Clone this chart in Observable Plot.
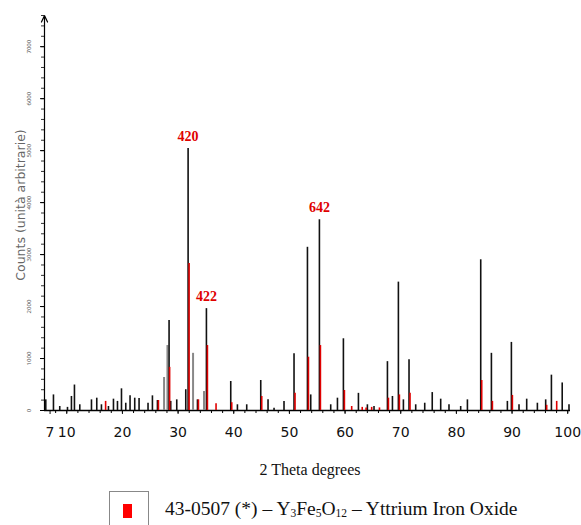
<!DOCTYPE html>
<html>
<head>
<meta charset="utf-8">
<script src="https://cdn.jsdelivr.net/npm/d3@7"></script>
<script src="https://cdn.jsdelivr.net/npm/@observablehq/plot@0.6"></script>
<style>
  body { margin: 0; background: #fff; width: 581px; height: 525px; position: relative; overflow: hidden; }
  #chart { position: absolute; left: 0; top: 0; }
  #xlabel { position: absolute; left: 0; width: 620px; top: 461px; text-align: center; font-family: "Liberation Serif", serif; font-size: 16px; color: #111; }
  #legbox { position: absolute; left: 109px; top: 491px; width: 40px; height: 40px; border: 1px solid #888; box-sizing: border-box; }
  #legsq { position: absolute; left: 13px; top: 12px; width: 9px; height: 14px; background: #f00; }
  #legtext { position: absolute; left: 165px; top: 498px; font-family: "Liberation Serif", serif; font-size: 19.5px; color: #111; white-space: nowrap; }
  #legtext sub { font-size: 11.5px; vertical-align: -2px; line-height: 0; }
</style>
</head>
<body>
<div id="chart"></div>
<div id="xlabel">2 Theta degrees</div>
<div id="legbox"><div id="legsq"></div></div>
<div id="legtext">43-0507 (*) – Y<sub>3</sub>Fe<sub>5</sub>O<sub>12</sub> – Yttrium Iron Oxide</div>
<script>
// Measured pattern (black): 2θ (deg) and counts
const measTheta = [6.23,7.61,8.74,10.13,10.84,11.38,12.34,14.44,15.39,16.23,17.49,18.39,19.11,19.83,20.60,21.37,22.21,22.99,24.60,25.39,26.29,28.38,28.68,29.76,31.38,31.80,33.48,35.09,39.46,40.66,42.33,44.85,46.16,47.24,49.03,50.83,53.24,53.83,55.39,57.42,58.63,59.70,62.40,64.01,65.20,67.61,68.51,69.58,70.48,71.49,72.69,74.31,75.66,77.18,78.67,80.77,81.98,84.37,86.29,89.16,89.88,91.25,92.63,94.55,96.04,97.07,99.01,100.23];
const measCounts = [205,300,77,60,270,490,110,205,237,110,77,218,175,417,140,282,237,230,140,282,192,1730,175,205,400,5040,205,1960,558,110,110,577,205,45,175,1090,3140,300,3670,110,237,1380,330,110,77,940,270,2470,205,975,110,140,345,218,110,77,205,2900,1100,175,1310,110,218,140,205,680,530,110];
// Secondary (gray) components
const grayTheta = [27.48,28.09,32.69,34.66];
const grayCounts = [635,1250,1100,365];
// Reference card 43-0507 Y3Fe5O12 sticks (red)
const refTheta = [16.8,26.29,28.30,31.80,33.48,35.09,36.64,39.46,44.85,50.83,53.24,55.39,59.70,61.01,62.9,63.6,64.6,66.0,67.61,69.58,71.49,84.37,86.29,89.88,96.04,97.84];
const refCounts = [175,192,830,2830,205,1250,128,150,270,333,1025,1250,385,77,60,50,60,50,237,300,333,577,175,290,100,175];
// Peak labels (hkl)
const hklText = ["420","422","642"];
const hklTheta = [31.80,35.09,55.39];
const hklCounts = [5040,1960,3670];
// Axis ticks and titles
const xTickValues = [7,10,20,30,40,50,60,70,80,90,100];
const yTickValues = [0,1000,2000,3000,4000,5000,6000,7000];
const yTitle = "Counts (unità arbitrarie)";

const meas = measTheta.map((t,i)=>({t, c: measCounts[i]}));
const gray = grayTheta.map((t,i)=>({t, c: grayCounts[i]}));
const ref = refTheta.map((t,i)=>({t, c: refCounts[i]}));
const hkl = hklText.map((s,i)=>({s, t: hklTheta[i], c: hklCounts[i]}));

const chart = Plot.plot({
  width: 581,
  height: 450,
  marginLeft: 44,
  marginRight: 11,
  marginTop: 15,
  marginBottom: 40,
  x: {domain: [6, 100.5]},
  y: {domain: [0, 7600]},
  style: {background: "white"},
  marks: [
    Plot.axisX({ticks: d3.range(8, 101, 2), tickSize: 3, tickFormat: () => "", stroke: "#000"}),
    Plot.axisX({ticks: xTickValues, tickSize: 4, tickPadding: 13, fontSize: 14, fontFamily: "DejaVu Sans", label: null, color: "#111"}),
    Plot.axisY({ticks: d3.range(0, 7601, 200), tickSize: 3, tickFormat: () => "", stroke: "#333", label: null}),
    Plot.axisY({ticks: yTickValues, tickSize: 4, tickPadding: 10, tickRotate: -90, tickFormat: "d", fontSize: 6, fill: "#555", label: null}),
    Plot.text([yTitle], {frameAnchor: "left", textAnchor: "middle", text: d => d, rotate: -90, dx: -24, dy: -8, fontSize: 12.5, fill: "#666", fontFamily: "DejaVu Sans"}),
    Plot.ruleY([0], {stroke: "#000", strokeWidth: 1.5}),
    Plot.arrow([{x: 6, y1: 0, y2: 7600}], {x: "x", y1: "y1", y2: "y2", stroke: "#000", strokeWidth: 1.2, headLength: 9, headAngle: 50}),
    Plot.ruleX(gray, {x: "t", y1: 0, y2: "c", stroke: "#888", strokeWidth: 2}),
    Plot.ruleX(meas, {x: "t", y1: 0, y2: "c", stroke: "#111", strokeWidth: 1.6}),
    Plot.ruleX(ref, {x: "t", y1: 0, y2: "c", stroke: "#e00000", strokeWidth: 1.6, dx: 1}),
    Plot.text(hkl, {x: "t", y: "c", text: "s", dy: -12, fill: "#e00000", fontSize: 14, fontWeight: "bold", fontFamily: "Liberation Serif"})
  ]
});
document.getElementById("chart").appendChild(chart);
</script>
</body>
</html>
